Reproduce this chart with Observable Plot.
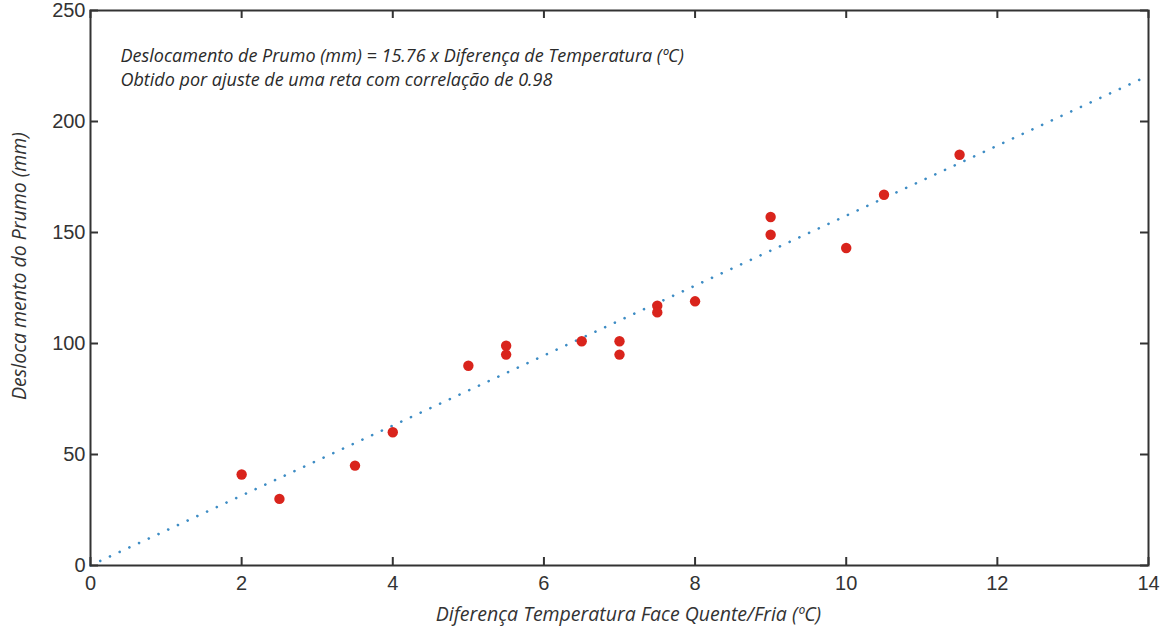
<!DOCTYPE html>
<html>
<head>
<meta charset="utf-8">
<script src="https://cdn.jsdelivr.net/npm/d3@7"></script>
<script src="https://cdn.jsdelivr.net/npm/@observablehq/plot@0.6"></script>
<style>
  body { margin: 0; background: #fff; }
  #chart svg { display: block; }
</style>
</head>
<body>
<div id="chart"></div>
<script>
// Data
const tempDiff = [2, 2.5, 3.5, 4, 5, 5.5, 5.5, 6.5, 7, 7, 7.5, 7.5, 8, 9, 9, 10, 10.5, 11.5];
const displacement = [41, 30, 45, 60, 90, 99, 95, 101, 101, 95, 117, 114, 119, 157, 149, 143, 167, 185];
const slope = 15.76;
const fitX = [0, 14];
const xTicks = [0, 2, 4, 6, 8, 10, 12, 14];
const yTicks = [0, 50, 100, 150, 200, 250];
const annotation = "Deslocamento de Prumo (mm) = 15.76 x Diferença de Temperatura (ºC)\nObtido por ajuste de uma reta com correlação de 0.98";
const xLabel = "Diferença Temperatura Face Quente/Fria (ºC)";
const yLabel = "Desloca mento do Prumo (mm)";

const points = tempDiff.map((x, i) => ({x, y: displacement[i]}));
const fit = fitX.map(x => ({x, y: slope * x}));

const W = 1167, H = 632;
const mL = 90, mR = 19, mT = 10, mB = 67;
const innerW = W - mL - mR, innerH = H - mT - mB;
const tickLen = 8;
const axisColor = "#333";

const chart = Plot.plot({
  width: W, height: H,
  marginLeft: mL, marginRight: mR, marginTop: mT, marginBottom: mB,
  style: {fontFamily: "Liberation Sans, Arial, sans-serif", background: "#fff"},
  x: {domain: [0, 14]},
  y: {domain: [0, 250]},
  marks: [
    // inward ticks on all four sides
    Plot.ruleX(xTicks, {x: d => d, insetTop: innerH - tickLen, stroke: axisColor, strokeWidth: 2}),
    Plot.ruleX(xTicks, {x: d => d, insetBottom: innerH - tickLen, stroke: axisColor, strokeWidth: 2}),
    Plot.ruleY(yTicks, {y: d => d, insetRight: innerW - tickLen, stroke: axisColor, strokeWidth: 2}),
    Plot.ruleY(yTicks, {y: d => d, insetLeft: innerW - tickLen, stroke: axisColor, strokeWidth: 2}),
    Plot.axisX(xTicks, {anchor: "bottom", tickSize: 0, tickPadding: 10, fontSize: 20, fill: "#333", label: null}),
    Plot.axisY(yTicks, {anchor: "left", tickSize: 0, tickPadding: 5, fontSize: 20, fill: "#333", label: null}),
    Plot.line(fit, {x: "x", y: "y", stroke: "#3d8cc4", strokeWidth: 2.6, strokeDasharray: "0.1,10.6", strokeLinecap: "round"}),
    Plot.dot(points, {x: "x", y: "y", r: 5.2, fill: "#d9241c", stroke: "none"}),
    Plot.frame({stroke: axisColor, strokeWidth: 2}),
    Plot.text([annotation], {
      frameAnchor: "top-left", dx: 30, dy: 56, lineAnchor: "middle", textAnchor: "start",
      fontFamily: "Open Sans, sans-serif", fontStyle: "italic", fontSize: 18, lineHeight: 1.3, fill: "#2a2a2a"
    }),
    Plot.text([xLabel], {
      frameAnchor: "bottom", dx: 9, dy: 55, textAnchor: "middle", fontFamily: "Open Sans, sans-serif", fontStyle: "italic",
      fontSize: 19.5, fill: "#333"
    }),
    Plot.text([yLabel], {
      frameAnchor: "left", rotate: -90, dx: -71, dy: -22, textAnchor: "middle", fontFamily: "Open Sans, sans-serif", fontStyle: "italic",
      fontSize: 19.5, fill: "#333"
    })
  ]
});
document.getElementById("chart").append(chart);
</script>
</body>
</html>
